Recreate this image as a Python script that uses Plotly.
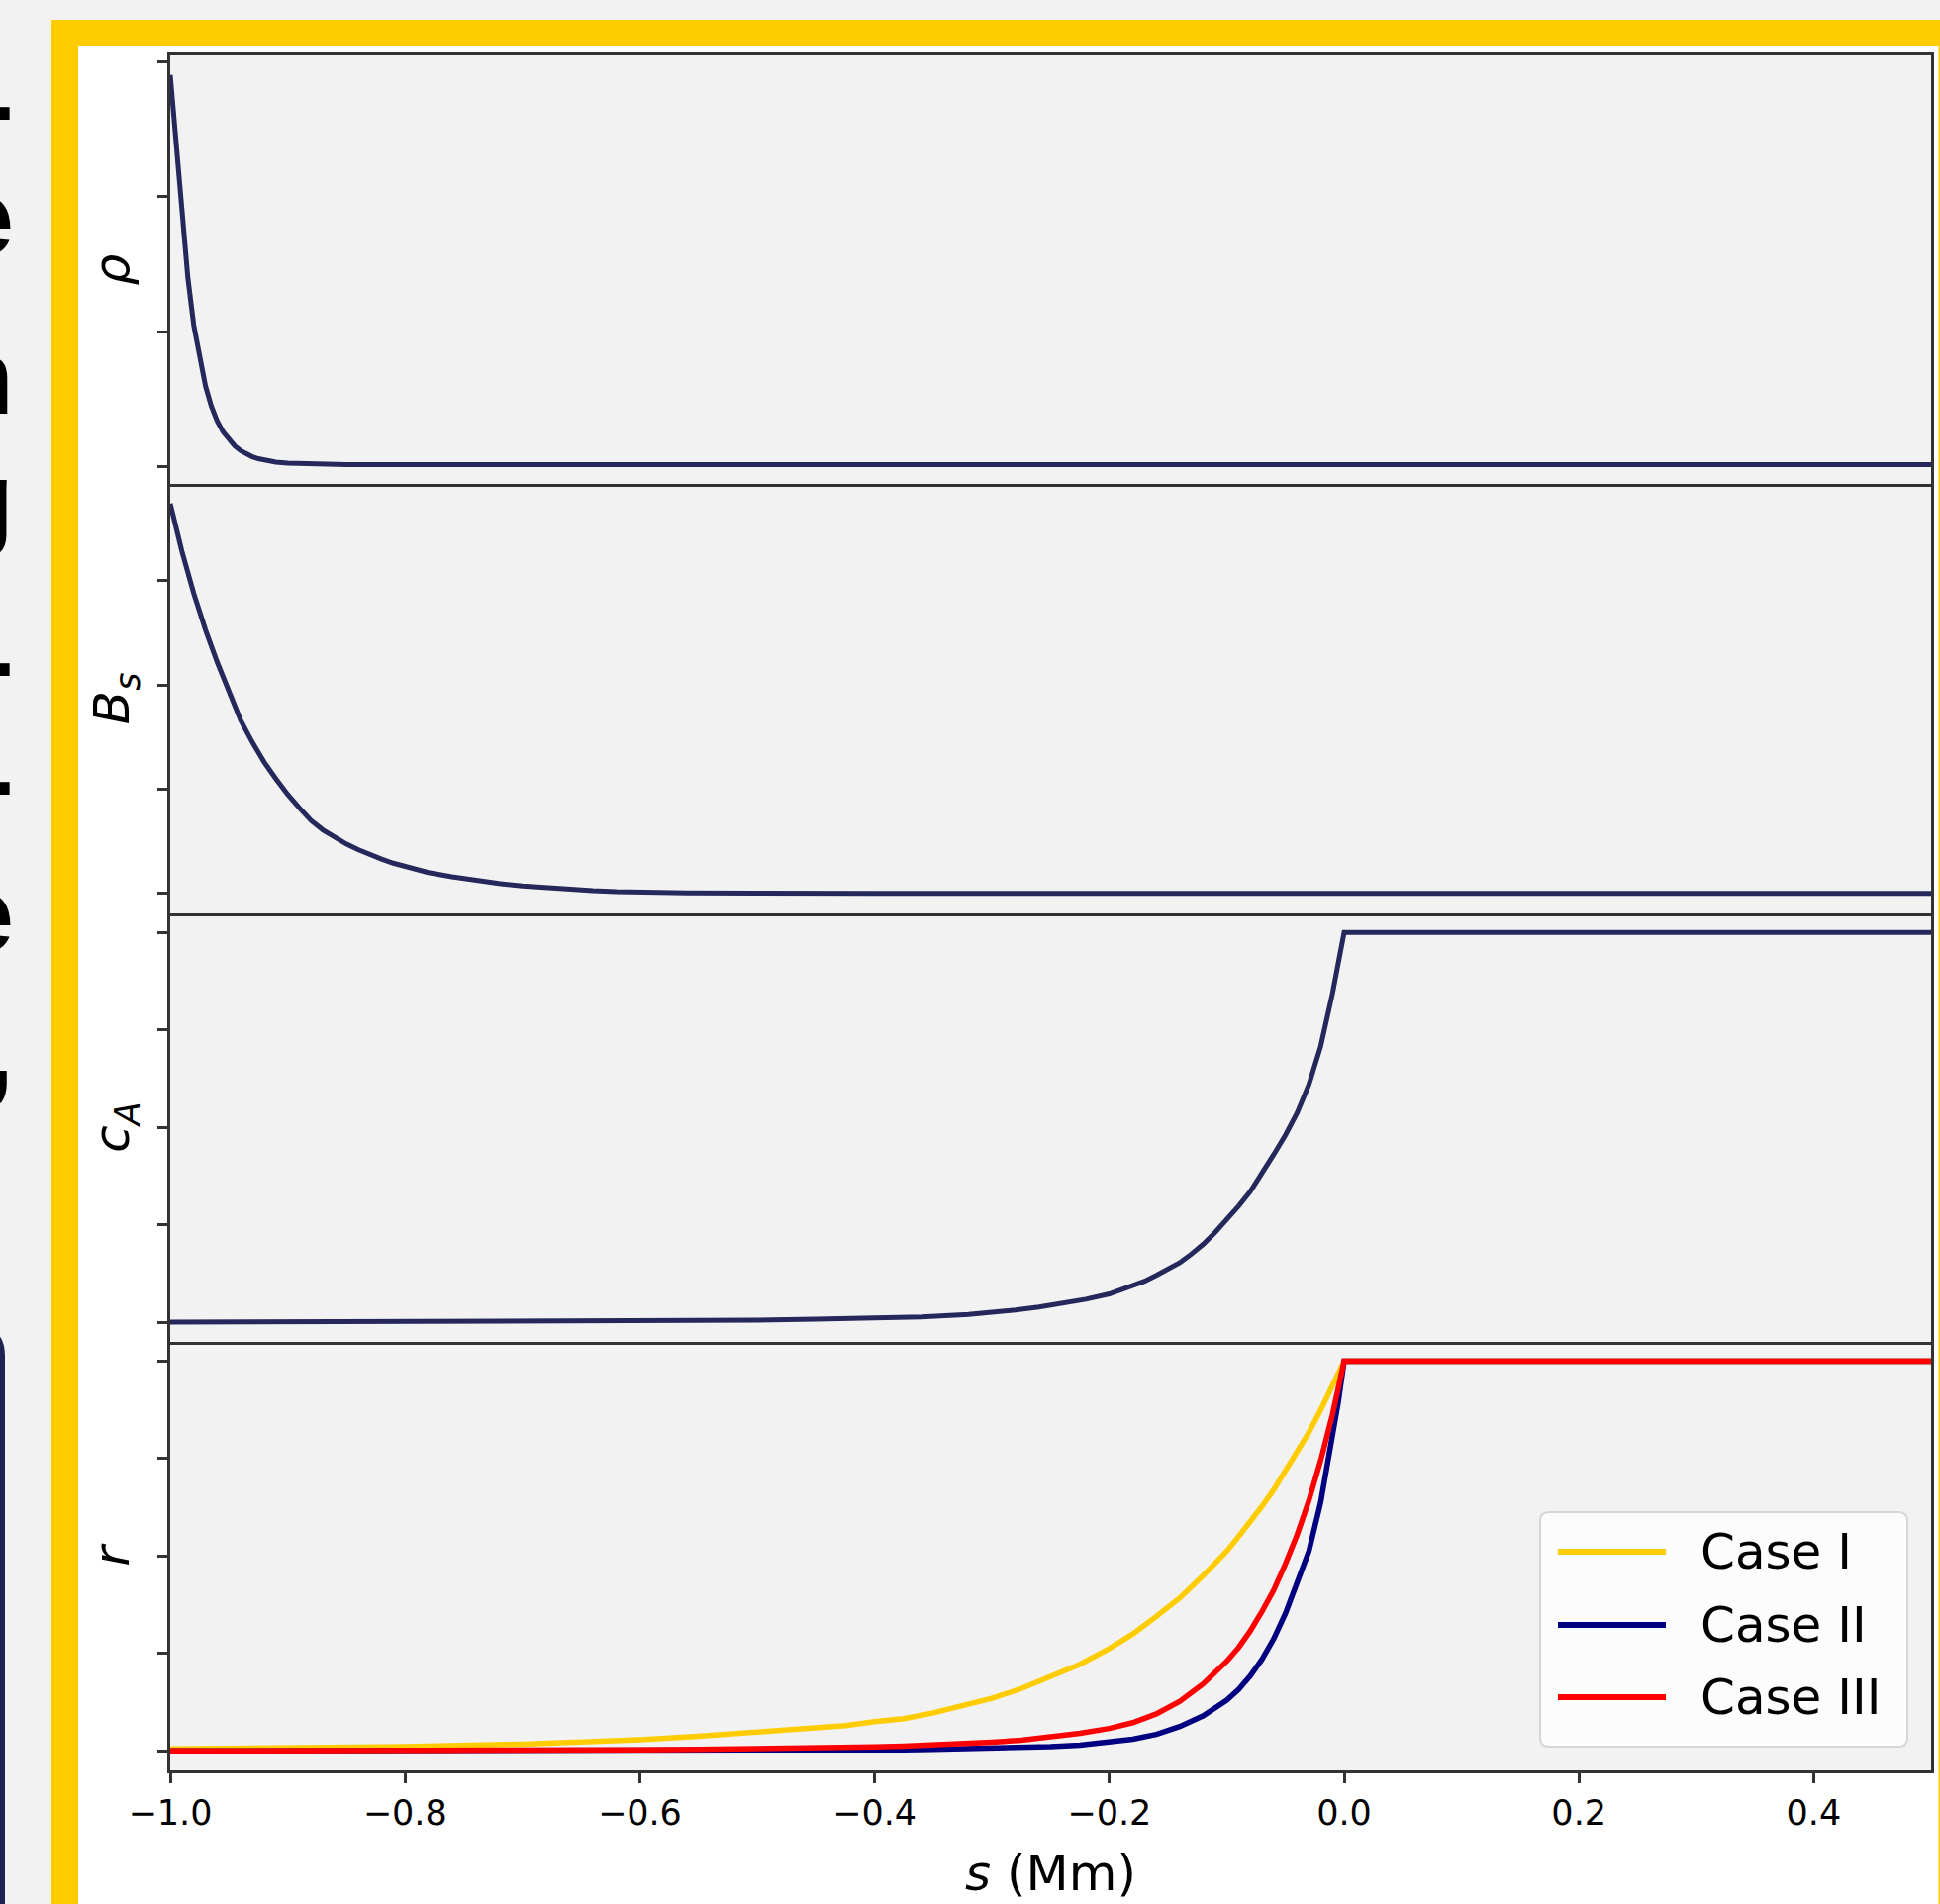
import plotly.graph_objects as go
from plotly.subplots import make_subplots

# ---------------- data ----------------
s_rho = [-1.0, -0.995, -0.99, -0.985, -0.98, -0.975, -0.97, -0.965, -0.96, -0.955,
         -0.95, -0.945, -0.94, -0.935, -0.93, -0.925, -0.92, -0.91, -0.9, -0.88,
         -0.85, -0.8, 0.5]
rho = [2.90, 2.38, 1.85, 1.40, 1.05, 0.82, 0.60, 0.45, 0.34, 0.26,
       0.20, 0.155, 0.12, 0.095, 0.075, 0.061, 0.050, 0.036, 0.028, 0.021,
       0.018, 0.017, 0.017]

s_bs = [-1.0, -0.99, -0.98, -0.97, -0.96, -0.95, -0.94, -0.93, -0.92, -0.91, -0.9,
        -0.89, -0.88, -0.87, -0.86, -0.85, -0.84, -0.83, -0.82, -0.81, -0.8, -0.78,
        -0.76, -0.74, -0.72, -0.7, -0.68, -0.66, -0.64, -0.62, -0.6, -0.56, -0.5,
        -0.4, 0.5]
bs = [3.74, 3.28, 2.88, 2.53, 2.22, 1.95, 1.66, 1.45, 1.26, 1.10, 0.95,
      0.82, 0.70, 0.61, 0.54, 0.475, 0.42, 0.37, 0.33, 0.29, 0.26, 0.20,
      0.16, 0.125, 0.095, 0.072, 0.054, 0.038, 0.027, 0.018, 0.012, 0.006, 0.002,
      0.0, 0.0]

s_ca = [-1.0, -0.6, -0.5, -0.45, -0.4, -0.36, -0.32, -0.3, -0.28, -0.26, -0.24, -0.22,
        -0.2, -0.19, -0.18, -0.17, -0.16, -0.15, -0.14, -0.13, -0.12, -0.11, -0.1,
        -0.09, -0.08, -0.07, -0.06, -0.05, -0.04, -0.03, -0.02, -0.01, -0.005, 0.0, 0.5]
ca = [1.0, 1.01, 1.02, 1.03, 1.04, 1.055, 1.08, 1.10, 1.125, 1.155, 1.19, 1.235,
      1.29, 1.33, 1.37, 1.42, 1.48, 1.54, 1.61, 1.70, 1.80, 1.92, 2.05,
      2.19, 2.34, 2.52, 2.72, 2.92, 3.15, 3.44, 3.83, 4.37, 4.68, 5.0, 5.0]

s_r = [-1.0, -0.9, -0.8, -0.7, -0.65, -0.6, -0.55, -0.5, -0.475, -0.45, -0.425, -0.4,
       -0.375, -0.35, -0.325, -0.3, -0.275, -0.25, -0.225, -0.2, -0.18, -0.16, -0.14,
       -0.12, -0.1, -0.09, -0.08, -0.07, -0.06, -0.05, -0.04, -0.03, -0.02, -0.01,
       -0.005, 0.0, 0.5]
r_case1 = [1.02, 1.03, 1.045, 1.07, 1.09, 1.115, 1.15, 1.19, 1.21, 1.23, 1.26, 1.30,
           1.33, 1.39, 1.46, 1.54, 1.64, 1.76, 1.89, 2.05, 2.20, 2.38, 2.57,
           2.80, 3.05, 3.20, 3.35, 3.51, 3.68, 3.87, 4.06, 4.27, 4.50, 4.74,
           4.87, 5.0, 5.0]
r_case2 = [1.0, 1.0, 1.0, 1.0, 1.0, 1.0, 1.002, 1.004, 1.005, 1.007, 1.008, 1.01,
           1.012, 1.015, 1.02, 1.025, 1.035, 1.045, 1.06, 1.09, 1.12, 1.17, 1.25,
           1.36, 1.52, 1.63, 1.77, 1.94, 2.15, 2.41, 2.72, 3.05, 3.55, 4.20,
           4.58, 5.0, 5.0]
r_case3 = [1.0, 1.0, 1.0, 1.01, 1.01, 1.01, 1.015, 1.02, 1.025, 1.03, 1.035, 1.04,
           1.05, 1.06, 1.075, 1.09, 1.11, 1.14, 1.18, 1.23, 1.29, 1.38, 1.51,
           1.69, 1.92, 2.06, 2.23, 2.43, 2.65, 2.92, 3.22, 3.57, 3.98, 4.45,
           4.72, 5.0, 5.0]

case_names = ["Case I", "Case II", "Case III"]
case_colors = ["#FFCC00", "#000080", "#FF0000"]
profile_color = "#25285a"

x_ticks = [-1.0, -0.8, -0.6, -0.4, -0.2, 0.0, 0.2, 0.4]
y_ticks = [[0, 1, 2, 3], [0, 1, 2, 3], [1, 2, 3, 4, 5], [1, 2, 3, 4, 5]]
y_titles = ["<i>ρ</i>", "<i>B</i><sub><i>s</i></sub>", "<i>c</i><sub><i>A</i></sub>", "<i>r</i>"]
x_title = "<i>s</i> (Mm)"

side_text = ["-", "e", "n", "g", "-", "-", "e", ","]
side_text_y = [105, 220, 380, 505, 667, 787, 923, 1060]

# ---------------- layout geometry ----------------
W, H = 1960, 1924
ML, MR, MT, MB = 172, 9, 56, 135
PW = W - ML - MR
PH = H - MT - MB


def px(x):
    return (x - ML) / PW


def py(y):
    return (H - MB - y) / PH


def padded(vals):
    lo, hi = min(vals), max(vals)
    m = 0.05 * (hi - lo)
    return [lo - m, hi + m]


fig = make_subplots(rows=4, cols=1, shared_xaxes=True, vertical_spacing=0)

fig.add_trace(go.Scatter(x=s_rho, y=rho, mode="lines", showlegend=False,
                         line=dict(color=profile_color, width=5)), row=1, col=1)
fig.add_trace(go.Scatter(x=s_bs, y=bs, mode="lines", showlegend=False,
                         line=dict(color=profile_color, width=5)), row=2, col=1)
fig.add_trace(go.Scatter(x=s_ca, y=ca, mode="lines", showlegend=False,
                         line=dict(color=profile_color, width=5)), row=3, col=1)
for name, col, vals in zip(case_names, case_colors, [r_case1, r_case2, r_case3]):
    fig.add_trace(go.Scatter(x=s_r, y=vals, mode="lines", name=name, showlegend=False,
                             line=dict(color=col, width=5.5)), row=4, col=1)

ranges = [padded(rho), padded(bs), padded(ca), padded(r_case1 + r_case2 + r_case3)]
axis_col = "#333333"
for i in range(4):
    fig.update_yaxes(row=i + 1, col=1, range=ranges[i], tickvals=y_ticks[i],
                     showticklabels=False, ticks="outside", ticklen=10, tickwidth=2.5,
                     tickcolor=axis_col, showline=True, mirror=True, linecolor=axis_col,
                     linewidth=3, showgrid=False, zeroline=False,
                     title=dict(text=y_titles[i], standoff=13,
                                font=dict(family="DejaVu Sans", size=50, color="black")))
    fig.update_xaxes(row=i + 1, col=1, range=[-1.0, 0.5], showline=True,
                     mirror=(i == 0),
                     linecolor=axis_col, linewidth=3, showgrid=False, zeroline=False,
                     ticks="", showticklabels=False)

fig.update_xaxes(row=4, col=1, ticks="outside", ticklen=10, tickwidth=2.5,
                 tickcolor=axis_col, tickvals=x_ticks, tickformat=".1f",
                 showticklabels=True,
                 tickfont=dict(family="DejaVu Sans", size=35, color="black"),
                 title=dict(text=x_title, standoff=24,
                            font=dict(family="DejaVu Sans", size=50, color="black")))

shapes = []
# slide background frame
shapes.append(dict(type="rect", xref="paper", yref="paper", layer="below",
                   x0=px(52), x1=px(2200), y0=py(20), y1=py(2200),
                   fillcolor="#FFCC00", line=dict(width=0)))
shapes.append(dict(type="rect", xref="paper", yref="paper", layer="below",
                   x0=px(79), x1=px(1958.5), y0=py(46), y1=py(2200),
                   fillcolor="#FFFFFF", line=dict(width=0)))
shapes.append(dict(type="rect", xref="paper", yref="paper", layer="below",
                   x0=0, x1=1, y0=0, y1=1, fillcolor="#F2F2F2", line=dict(width=0)))


def rounded_path(x0, y0, x1, y1, rad):
    rx = rad / PW
    ry = rad / PH
    X0, X1 = px(x0), px(x1)
    Y0, Y1 = py(y0), py(y1)  # Y0 top, Y1 bottom
    return (f"M{X0 + rx},{Y0} L{X1 - rx},{Y0} Q{X1},{Y0} {X1},{Y0 - ry} "
            f"L{X1},{Y1 + ry} Q{X1},{Y1} {X1 - rx},{Y1} L{X0 + rx},{Y1} "
            f"Q{X0},{Y1} {X0},{Y1 + ry} L{X0},{Y0 - ry} Q{X0},{Y0} {X0 + rx},{Y0} Z")


# partial dark box on the slide's left edge
shapes.append(dict(type="path", xref="paper", yref="paper", layer="below",
                   path=rounded_path(-60, 1340, 5, 2100, 30),
                   fillcolor="#1F2350", line=dict(width=0)))

# legend box
LX0, LX1, LY0, LY1 = 1556, 1927, 1528, 1765
shapes.append(dict(type="path", xref="paper", yref="paper", layer="above",
                   path=rounded_path(LX0, LY0, LX1, LY1, 9),
                   fillcolor="rgba(252,252,252,1)", line=dict(color="#D6D6D6", width=2)))
legend_rows = [1568, 1642, 1715]
annotations = []
for name, col, yy in zip(case_names, case_colors, legend_rows):
    shapes.append(dict(type="line", xref="paper", yref="paper", layer="above",
                       x0=px(1574), x1=px(1683), y0=py(yy), y1=py(yy),
                       line=dict(color=col, width=6)))
    annotations.append(dict(xref="paper", yref="paper", x=px(1716), y=py(yy),
                            xanchor="left", yanchor="middle", showarrow=False,
                            text=name, font=dict(family="DejaVu Sans", size=50, color="black")))

for t, yy in zip(side_text, side_text_y):
    annotations.append(dict(xref="paper", yref="paper", x=px(16), y=py(yy),
                            xanchor="right", yanchor="middle", showarrow=False,
                            text=f"<b>{t}</b>",
                            font=dict(family="Liberation Sans", size=108, color="black")))

fig.update_layout(width=W, height=H, autosize=False,
                  margin=dict(l=ML, r=MR, t=MT, b=MB, pad=0, autoexpand=False),
                  paper_bgcolor="#F2F2F2", plot_bgcolor="#F2F2F2",
                  shapes=shapes, annotations=annotations, showlegend=False)

fig.write_html("out.html", config={"displayModeBar": False},
               post_script="document.body.style.margin='0';document.body.style.overflow='hidden';")
